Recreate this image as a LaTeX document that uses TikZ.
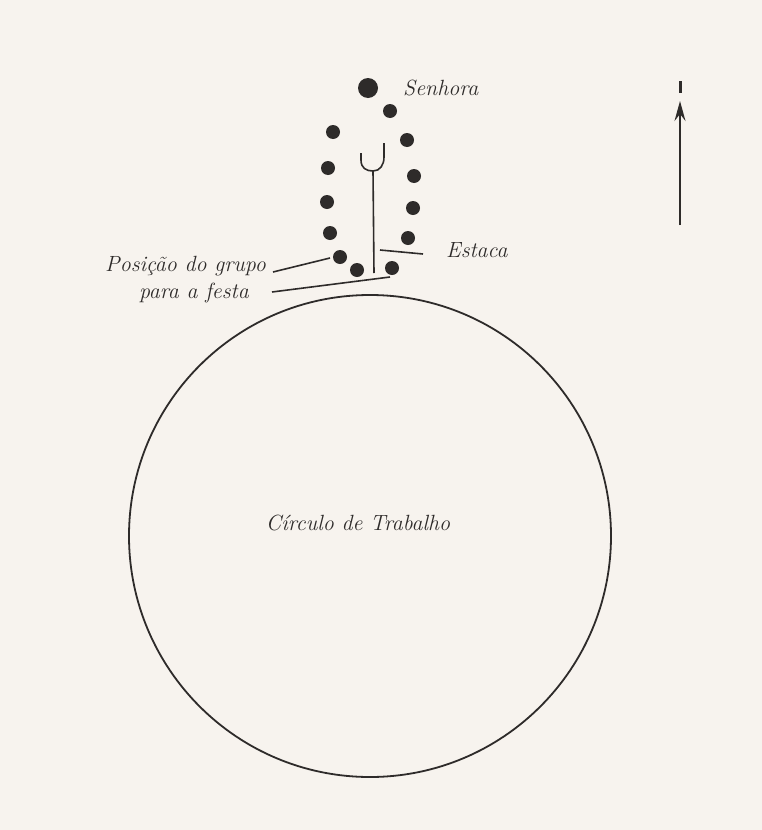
\documentclass[tikz,border=0pt]{standalone}
\usetikzlibrary{arrows.meta}
\definecolor{paper}{HTML}{F7F3EE}
\definecolor{ink}{HTML}{2E2B2A}
\begin{document}
\begin{tikzpicture}[x=1pt,y=-1pt,
  lbl/.style={font=\fontsize{22}{26}\selectfont\itshape, text=ink, inner sep=0pt},
  dot/.style={circle, fill=ink, inner sep=0pt, minimum size=14pt},
  bigdot/.style={circle, fill=ink, inner sep=0pt, minimum size=20pt},
  ln/.style={draw=ink, line width=1.6pt},
]
\fill[paper] (0,0) rectangle (762,830);
\useasboundingbox (0,0) rectangle (762,830);
% work circle
\node[draw=ink, line width=1.8pt, circle, minimum size=482pt, inner sep=0pt] (circ) at (370,536) {};
\node[lbl] (ct) at (358,523) {Círculo de Trabalho};
% dots
\node[bigdot] (sen) at (368,88) {};
\node[lbl, anchor=west] (senl) at (403,88) {Senhora};
\node[dot] (d1) at (390,111) {};
\node[dot] (d2) at (333,132) {};
\node[dot] (d3) at (407,140) {};
\node[dot] (d4) at (328,168) {};
\node[dot] (d5) at (414,176) {};
\node[dot] (d6) at (327,202) {};
\node[dot] (d7) at (413,208) {};
\node[dot] (d8) at (330,233) {};
\node[dot] (d9) at (408,238) {};
\node[dot] (d10) at (340,257) {};
\node[dot] (d11) at (357,270) {};
\node[dot] (d12) at (392,268) {};
% stake
\coordinate (sb) at (374,273);
\coordinate (sf) at (373,171);
\draw[ln] (sb) -- (sf);
\draw[ln] (361,153) -- (361,160) .. controls (361,168) and (366,171) .. (sf) .. controls (380,171) and (384,165) .. (384,157) -- (384,143);
% Estaca label
\node[lbl, anchor=west] (est) at (446,250) {Estaca};
\coordinate (e1) at (380,250);
\coordinate (e2) at (423,254);
\draw[ln] (e1) -- (e2);
% group label
\node[lbl, anchor=east] (pos1) at (266,266) {Posição do grupo};
\node[lbl, anchor=east] (pos2) at (249,293) {para a festa};
\coordinate (p1a) at (273,272);
\coordinate (p1b) at (330,258);
\coordinate (p2a) at (272,292);
\coordinate (p2b) at (390,277);
\draw[ln] (p1a) -- (p1b);
\draw[ln] (p2a) -- (p2b);
% north arrow
\coordinate (na) at (680,225);
\coordinate (nb) at (680,101);
\draw[draw=ink, line width=1.8pt, -{Stealth[length=20pt, width=11pt, inset=7pt]}] (na) -- (nb);
\fill[ink] (678.5,81) rectangle (681.5,93);
\end{tikzpicture}
\end{document}
